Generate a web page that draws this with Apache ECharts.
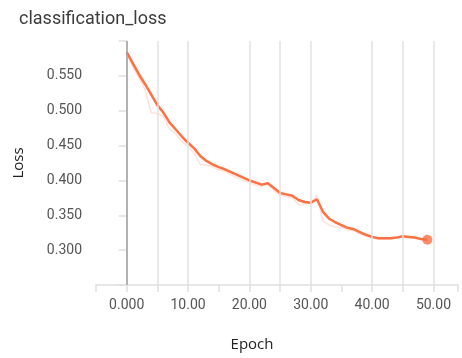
<!DOCTYPE html>
<html>
<head>
<meta charset="utf-8">
<script src="https://cdn.jsdelivr.net/npm/echarts@6/dist/echarts.min.js"></script>
<style>
html,body{margin:0;padding:0;background:#fff;}
#c{width:462px;height:358px;}
</style>
</head>
<body>
<div id="c"></div>
<script>
const title = 'classification_loss';
const xName = 'Epoch';
const yName = 'Loss';
const epochs = [0,1,2,3,4,5,6,7,8,9,10,11,12,13,14,15,16,17,18,19,20,21,22,23,24,25,26,27,28,29,30,31,32,33,34,35,36,37,38,39,40,41,42,43,44,45,46,47,48,49];
const smoothedLoss = [0.584,0.568,0.552,0.538,0.523,0.508,0.497,0.483,0.473,0.463,0.454,0.446,0.435,0.428,0.423,0.419,0.416,0.412,0.408,0.404,0.400,0.397,0.394,0.396,0.389,0.382,0.380,0.378,0.372,0.369,0.368,0.373,0.355,0.345,0.340,0.336,0.332,0.330,0.326,0.322,0.319,0.317,0.317,0.317,0.318,0.320,0.319,0.318,0.316,0.315];
const rawLoss = [0.584,0.563,0.547,0.530,0.497,0.496,0.492,0.473,0.467,0.456,0.449,0.439,0.423,0.422,0.420,0.415,0.413,0.408,0.404,0.400,0.397,0.393,0.391,0.397,0.385,0.379,0.377,0.375,0.365,0.366,0.367,0.379,0.342,0.336,0.333,0.333,0.329,0.328,0.323,0.320,0.317,0.316,0.316,0.316,0.318,0.321,0.318,0.317,0.315,0.314];
const xTickLabels = {0:'0.000',10:'10.00',20:'20.00',30:'30.00',40:'40.00',50:'50.00'};
const yTickLabels = [0.300,0.350,0.400,0.450,0.500,0.550];
const gridEpochs = [0,5,10,20,25,30,40,45,50];

const chart = echarts.init(document.getElementById('c'), null, {renderer:'canvas'});
const smoothPts = epochs.map((e,i)=>[e, smoothedLoss[i]]);
const rawPts = epochs.map((e,i)=>[e, rawLoss[i]]);
const last = epochs.length-1;

chart.setOption({
  animation:false,
  backgroundColor:'#fff',
  title:{text:title,left:14,top:5,textStyle:{fontFamily:'Roboto',fontSize:18,fontWeight:'normal',color:'#3c3c3c'}},
  grid:{left:96,right:4,top:41,bottom:73,containLabel:false},
  xAxis:{
    type:'value',min:-5,max:54,interval:5,
    name:xName,nameLocation:'middle',nameGap:52,
    nameTextStyle:{fontFamily:'Open Sans',fontSize:15,color:'#222',padding:[0,50,0,0]},
    axisLine:{show:true,onZero:false,lineStyle:{color:'#e0e0e0',width:1.5}},
    axisTick:{show:true,inside:false,length:7,lineStyle:{color:'#e0e0e0',width:1.5}},
    splitLine:{show:false},
    axisLabel:{margin:13,fontFamily:'Roboto',fontSize:14,color:'#555',
      formatter:v=> (xTickLabels[Math.round(v)]!==undefined && Math.abs(v-Math.round(v))<1e-6) ? xTickLabels[Math.round(v)] : ''}
  },
  yAxis:{
    type:'value',min:0.25,max:0.6,interval:0.05,
    name:yName,nameLocation:'middle',nameGap:70,nameRotate:90,
    nameTextStyle:{fontFamily:'Open Sans',fontSize:15,color:'#222'},
    axisLine:{show:true,lineStyle:{color:'#e0e0e0',width:1.5}},
    axisTick:{show:true,inside:false,length:8,lineStyle:{color:'#e0e0e0',width:1.5}},
    splitLine:{show:false},
    axisLabel:{margin:14,fontFamily:'Roboto',fontSize:14,color:'#555',
      formatter:v=> yTickLabels.some(t=>Math.abs(t-v)<1e-6) ? v.toFixed(3) : ''}
  },
  series:[
    {type:'line',data:rawPts,symbol:'none',z:1,
     lineStyle:{color:'#ff7043',width:1.5,opacity:0.2},
     markLine:{silent:true,symbol:['none','none'],label:{show:false},
       data:gridEpochs.map(v=>({xAxis:v,lineStyle:{color:v===0?'#a0a0a0':'#e2e2e2',width:1.5,type:'solid'}}))}
    },
    {type:'line',data:smoothPts,symbol:'none',z:3,
     lineStyle:{color:'#ff7043',width:2.5}},
    {type:'scatter',data:[[epochs[last],smoothedLoss[last]]],symbolSize:10,z:4,
     itemStyle:{color:'#ff7043'}}
  ]
});
</script>
</body>
</html>
